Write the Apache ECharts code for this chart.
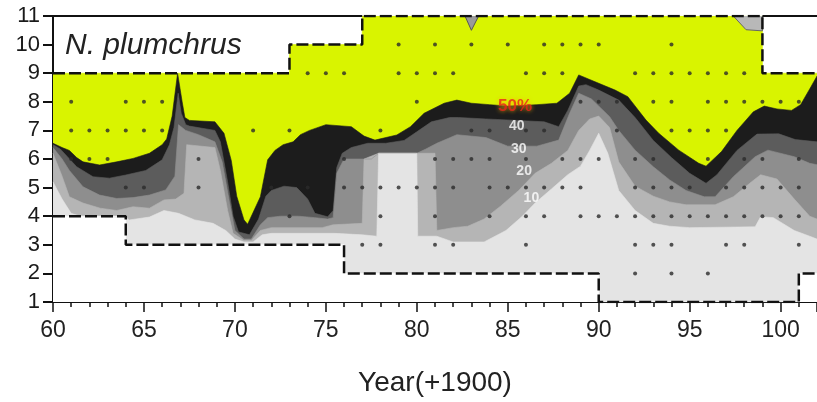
<!DOCTYPE html>
<html><head><meta charset="utf-8">
<script src="https://cdn.jsdelivr.net/npm/echarts@6/dist/echarts.min.js"></script>
<style>html,body{margin:0;padding:0;background:#fff}#c{width:817px;height:402px}</style>
</head><body><div id="c"></div>
<script>
// ---------- data ----------
const topBoundary = [[60,9],[73,9],[73,10],[77,10],[77,11],[99,11],[99,9],[102,9]];
const bottomBoundary = [[60,4],[64,4],[64,3],[76,3],[76,2],[90,2],[90,1],[101,1],[101,2],[102,2]];

const contour50 = [[60,6.55],[60.5,6.4],[60.9,6.3],[61.3,6.05],[61.65,5.9],[62.56,5.79],[63.5,5.9],[64.4,6.02],[65.3,6.2],[66,6.5],[66.25,6.7],[66.55,7.5],[66.85,9.0],[66.95,9.0],[67.1,8.0],[67.25,7.45],[67.5,7.35],[68.9,7.3],[69.4,6.9],[69.8,5.95],[70.1,4.7],[70.5,3.87],[70.7,3.72],[71.4,4.68],[71.8,5.97],[72.2,6.3],[72.65,6.5],[73.2,6.6],[73.6,6.85],[74.1,7.0],[75.0,7.2],[76.4,7.13],[77.1,6.8],[77.7,6.66],[78.9,6.84],[79.65,7.13],[80.4,7.6],[81.5,7.95],[82.2,8.06],[83,7.95],[84,7.9],[85,7.85],[86.6,7.9],[87.7,7.95],[88.4,8.3],[88.9,8.94],[89.8,8.7],[90.9,8.41],[91.6,8.18],[92.6,7.36],[93.3,6.9],[94.4,6.31],[95.5,5.85],[95.9,5.75],[96.75,6.26],[97.6,7.0],[98.5,7.65],[99.1,7.85],[99.8,7.75],[100.6,7.7],[101.1,7.9],[101.6,8.45],[102,8.9]];
const contour40 = [[60,6.5],[60.4,6.35],[61.3,5.73],[62.2,5.38],[63.1,5.33],[64,5.44],[65.1,5.6],[66,5.97],[66.4,6.5],[66.65,7.1],[66.88,8.3],[67.05,7.6],[67.3,7.2],[67.5,7.15],[68.9,7.0],[69.2,6.6],[69.6,5.2],[69.9,4.0],[70.2,3.45],[70.8,3.35],[71.3,3.9],[71.7,4.7],[72,4.9],[72.7,5.05],[73.4,5.0],[74,4.6],[74.4,4.1],[75.1,3.98],[75.4,4.2],[75.6,5.7],[75.9,6.2],[76.4,6.4],[77.3,6.55],[78.3,6.55],[79.3,6.65],[80,6.95],[80.8,7.3],[81.8,7.45],[82.3,7.45],[83.8,7.4],[85.5,7.35],[87,7.3],[87.8,7.13],[88.3,7.7],[88.9,8.55],[89.3,8.6],[90,8.41],[91.1,8.06],[92,7.45],[93,6.65],[94,6.05],[95,5.5],[95.9,5.15],[96.5,5.45],[97.6,6.3],[98.7,6.87],[99.9,6.88],[100.8,6.68],[102,6.6]];
const contour30 = [[60,6.4],[60.5,6.0],[60.9,5.6],[61.65,5.03],[62.56,4.74],[63.5,4.62],[64.4,4.65],[65.3,4.74],[66.2,4.92],[66.7,5.4],[66.9,7.2],[67.3,7.0],[68,6.85],[68.9,6.6],[69.3,5.9],[69.7,4.5],[70.0,3.5],[70.5,3.2],[70.9,3.2],[71.4,3.7],[71.8,3.95],[72.5,4.0],[73.5,4.0],[74.4,3.95],[75.1,3.9],[75.4,3.95],[75.6,5.5],[76,6.0],[77.5,6.0],[77.9,6.2],[80,6.2],[80.5,6.35],[81.1,6.55],[82.2,6.85],[83.8,6.75],[85,6.45],[86.6,6.45],[87.8,6.66],[88.4,7.6],[88.9,8.3],[89.6,8.1],[90.6,7.48],[91.1,7.0],[92,6.31],[93,5.73],[93.9,5.27],[94.8,4.9],[95.8,4.68],[96.4,4.68],[97.4,5.38],[98.6,6.08],[99.3,6.31],[100.75,6.08],[101.6,5.85],[102,5.8]];
const contour20 = [[60,6.2],[60.5,5.4],[60.9,4.68],[61.65,4.46],[62.6,4.28],[63.5,4.2],[64.4,4.33],[65.3,4.28],[66.1,4.57],[66.75,4.6],[67.2,4.8],[67.35,6.5],[68.9,6.4],[69.2,5.6],[69.6,4.2],[69.9,3.4],[70.5,3.15],[70.9,3.15],[71.4,3.5],[72,3.6],[74.8,3.6],[75.4,3.7],[77.0,3.75],[77.1,6.0],[77.9,6.2],[81.0,6.2],[81.1,3.5],[82,3.6],[82.8,3.65],[83.7,3.9],[84.6,4.35],[85.6,4.9],[86.5,5.5],[87.4,5.85],[88.3,6.3],[88.9,7.0],[89.5,7.4],[90,7.5],[90.6,7.1],[91.1,5.9],[92,5.05],[93,4.7],[93.9,4.5],[94.8,4.4],[96.4,4.4],[97.4,4.68],[98.3,5.15],[98.9,5.45],[99.8,5.3],[100.75,4.6],[101.6,4.0],[102,3.9]];
const contour10 = [[60,5.2],[60.5,4.6],[61,4.1],[61.5,4.0],[64,3.95],[64.2,3.87],[65.3,3.97],[66.1,4.2],[66.9,4.1],[67.8,3.87],[68.8,3.75],[69.5,3.5],[70,3.2],[70.5,3.1],[71,3.1],[71.5,3.35],[72,3.4],[75.5,3.4],[77.0,3.35],[77.8,3.3],[77.9,6.2],[80,6.2],[80.05,3.3],[81.1,3.3],[82,3.1],[83.7,3.1],[84.9,3.5],[85.8,4.0],[86.5,4.46],[87.4,4.95],[88.3,5.45],[89,5.75],[89.5,6.3],[90,6.9],[90.5,6.2],[91.1,4.9],[92,4.2],[93,3.75],[93.9,3.65],[95,3.6],[98.6,3.63],[98.9,3.98],[99.6,3.95],[100.75,3.5],[101.6,3.3],[102,3.2]];

const notch83 = [[82.65,11],[83.0,10.5],[83.4,11]];
const patch98 = [[97.4,11],[98.1,10.52],[99,10.48],[99,11]];

// sampling points (year lists per depth level)
const samples10 = [79,81,83,85,87,88,89,90,94];
const samples9  = [74,75,76,79,80,81,82,86,87,88,92,93,94,95,96,97,98];
const samples8  = [61,64,65,66,80,89,90,91,93,94,96,97,98,99,100,101];
const samples7  = [61,62,63,64,65,66,71,73,78,83,84,86,87,91,94,95,96,97];
const samples6  = [61,62,63,68,76,81,82,83,84,86,88,89,90,92,93,96,98,99,101];
const samples5  = [64,65,68,72,74,76,77,78,79,80,81,82,84,85,86,87,88,89,92,93,94,95,97,98,99,100,101];
const samples4  = [73,78,81,84,86,87,89,90,91,92,93,94,95,96,97,98,99,100,101];
const samples3  = [77,78,81,82,86,92,93,94,97,98,101];
const samples2  = [92,94,96];

const contourLabelNames = ['50%','40','30','20','10'];
const contourLabelYears = [85.4,85.5,85.6,85.9,86.3];
const contourLabelDepths = [7.85,7.15,6.33,5.56,4.62];

// ---------- build ----------
const sampleDots = [];
[[10,samples10],[9,samples9],[8,samples8],[7,samples7],[6,samples6],[5,samples5],[4,samples4],[3,samples3],[2,samples2]]
  .forEach(([lvl, yrs]) => yrs.forEach(y => sampleDots.push([y, lvl])));

function band(data, color) {
  return { type:'line', data, symbol:'none', silent:true, animation:false,
    lineStyle:{ color, width:0.6 }, areaStyle:{ color, opacity:1, origin:'start' } };
}
function edge(data, type, width) {
  return { type:'line', data, symbol:'none', silent:true, animation:false, z:5,
    lineStyle:{ color:'#111', width, type } };
}
const labelData = contourLabelNames.map((n,i) => {
  const d = { name:n, value:[contourLabelYears[i], contourLabelDepths[i]] };
  if (i === 0) d.label = { color:'#e8231a', fontSize:17, textShadowColor:'#ffb400', textShadowBlur:4 };
  return d;
});

const chart = echarts.init(document.getElementById('c'), null, { renderer:'canvas' });
chart.setOption({
  animation:false,
  backgroundColor:'#ffffff',
  grid:{ left:53, right:-7, top:16, bottom:100 },
  xAxis:{
    type:'value', min:60, max:102, interval:5,
    name:'Year(+1900)', nameLocation:'middle', nameGap:67,
    nameTextStyle:{ fontFamily:'Liberation Sans', fontSize:28, color:'#222' },
    axisLine:{ onZero:false, lineStyle:{ color:'#111', width:2 } },
    axisTick:{ length:10, lineStyle:{ color:'#111', width:1.5 } },
    minorTick:{ show:true, splitNumber:5, length:5, lineStyle:{ color:'#111', width:1.5 } },
    splitLine:{ show:false },
    axisLabel:{ margin:17, fontFamily:'Liberation Sans', fontSize:23, color:'#222', showMaxLabel:false,
      formatter:v => (v % 5 === 0 && v <= 100) ? String(v) : '' }
  },
  yAxis:{
    type:'value', min:1, max:11, interval:1,
    axisLine:{ show:true, onZero:false, lineStyle:{ color:'#111', width:2 } },
    axisTick:{ show:true, length:10, lineStyle:{ color:'#111', width:2 } },
    splitLine:{ show:false },
    axisLabel:{ margin:13, fontFamily:'Liberation Sans', fontSize:22, color:'#1a1a1a' }
  },
  graphic:[{ type:'text', left:65, top:31, silent:true,
    style:{ text:'N. plumchrus', fontFamily:'Liberation Sans', fontStyle:'italic', fontSize:30, fill:'#222' } }],
  series:[
    band(topBoundary, '#d9f400'),
    band(contour50, '#1c1c1c'),
    band(contour40, '#5c5c5c'),
    band(contour30, '#8e8e8e'),
    band(contour20, '#b5b5b5'),
    band(contour10, '#e4e4e4'),
    band(bottomBoundary, '#ffffff'),
    { type:'line', data:notch83, symbol:'none', silent:true, z:4,
      lineStyle:{ color:'#555', width:1 }, areaStyle:{ color:'#9a9a9a', opacity:1, origin:'end' } },
    { type:'line', data:patch98, symbol:'none', silent:true, z:4,
      lineStyle:{ color:'#666', width:1 }, areaStyle:{ color:'#b8b8b8', opacity:1, origin:'end' } },
    edge([[60,11],[77,11]], 'solid', 2),
    edge([[99,11],[102,11]], 'solid', 2),
    edge(topBoundary, [12,4], 2.5),
    edge(bottomBoundary, [12,4], 2.5),
    { type:'scatter', data:sampleDots, symbol:'circle', symbolSize:4, silent:true, z:6,
      itemStyle:{ color:'#2a2a2a' } },
    { type:'scatter', data:labelData, symbolSize:0, silent:true, z:7,
      label:{ show:true, position:'inside', formatter:p => p.name, fontFamily:'Liberation Sans', fontWeight:'bold',
        fontSize:14, color:'#ffffff' },
      labelLayout:{ hideOverlap:false } }
  ]
});
</script>
</body></html>
